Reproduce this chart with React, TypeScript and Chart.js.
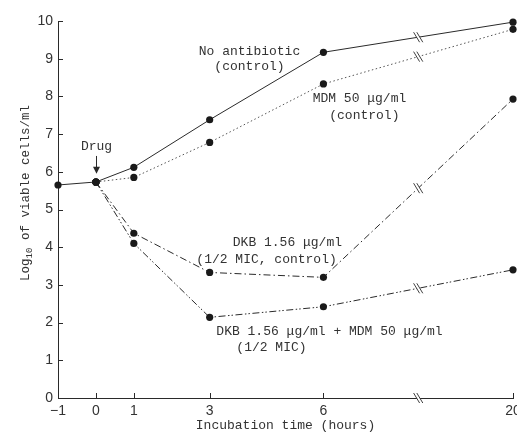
import React, { useEffect, useRef } from "react";
import { Chart, registerables } from "chart.js";

Chart.register(...registerables);

// ---- data (hours, log10 viable cells/ml) ----
const inoculumHours = [-1, 0];
const inoculumLog = [5.65, 5.73];
const sampleHours = [0, 1, 3, 6, 20];
const noAntibiotic = [5.73, 6.12, 7.38, 9.17, 9.97];
const mdm50 = [5.73, 5.85, 6.78, 8.33, 9.78];
const dkbHalfMic = [5.73, 4.37, 3.33, 3.2, 7.93];
const dkbPlusMdm = [5.73, 4.1, 2.14, 2.42, 3.4];
const xTickHours = [-1, 0, 1, 3, 6, 20];
const yTickValues = [0, 1, 2, 3, 4, 5, 6, 7, 8, 9, 10];

// axis break: 6..20 h is compressed into 5 axis units
const BREAK_FROM = 6;
const BREAK_TO = 20;
const BREAK_SPAN = 5;
const toAxis = (h: number) =>
  h <= BREAK_FROM ? h : BREAK_FROM + ((h - BREAK_FROM) * BREAK_SPAN) / (BREAK_TO - BREAK_FROM);
const breakAxisX = BREAK_FROM + BREAK_SPAN / 2;

// text annotations (axis units)
const annotationLines = [
  { text: "No antibiotic", x: 4.05, y: 9.18 },
  { text: "(control)", x: 4.05, y: 8.8 },
  { text: "MDM 50 μg/ml", x: 6.95, y: 7.93 },
  { text: "(control)", x: 7.08, y: 7.5 },
  { text: "DKB 1.56 μg/ml", x: 5.05, y: 4.11 },
  { text: "(1/2 MIC, control)", x: 4.5, y: 3.66 },
  { text: "DKB 1.56 μg/ml + MDM 50 μg/ml", x: 6.16, y: 1.75 },
  { text: "(1/2 MIC)", x: 4.63, y: 1.35 },
];
const drugLabel = { text: "Drug", x: 0, y: 6.68, arrowFrom: 6.42, arrowTo: 5.95 };

const INK = "#2a2a2a";
const MONO = "'Liberation Mono', 'DejaVu Sans Mono', monospace";
const SANS = "'Liberation Sans', Arial, sans-serif";

const seriesList = [
  { values: noAntibiotic, dash: [] as number[] },
  { values: mdm50, dash: [1.5, 2.5] },
  { values: dkbHalfMic, dash: [7, 3, 1.5, 3] },
  { values: dkbPlusMdm, dash: [7, 2.5, 1.5, 2, 1.5, 2.5] },
];

const overlayPlugin = {
  id: "overlay",
  afterDraw(chart: any) {
    const { ctx, chartArea, scales } = chart;
    const x = scales.x;
    const y = scales.y;
    ctx.save();
    ctx.strokeStyle = INK;
    ctx.lineWidth = 1;
    ctx.setLineDash([]);
    const seg = (x1: number, y1: number, x2: number, y2: number) => {
      ctx.beginPath();
      ctx.moveTo(x1, y1);
      ctx.lineTo(x2, y2);
      ctx.stroke();
    };
    // inward tick marks
    yTickValues.forEach((v) => {
      const py = Math.round(y.getPixelForValue(v)) + 0.5;
      seg(chartArea.left, py, chartArea.left + 5, py);
    });
    xTickHours.forEach((h) => {
      const px = Math.round(x.getPixelForValue(toAxis(h))) + 0.5;
      seg(px, chartArea.bottom, px, chartArea.bottom - 5);
    });
    // break marks
    const drawBreak = (bx: number, by: number) => {
      ctx.save();
      ctx.fillStyle = "#ffffff";
      ctx.beginPath();
      ctx.moveTo(bx - 1.6 - 3, by - 5);
      ctx.lineTo(bx + 1.6 - 3, by - 5);
      ctx.lineTo(bx + 1.6 + 3, by + 5);
      ctx.lineTo(bx - 1.6 + 3, by + 5);
      ctx.closePath();
      ctx.fill();
      ctx.strokeStyle = INK;
      ctx.lineWidth = 0.9;
      seg(bx - 1.6 - 3, by - 5, bx - 1.6 + 3, by + 5);
      seg(bx + 1.6 - 3, by - 5, bx + 1.6 + 3, by + 5);
      ctx.restore();
    };
    const bx = x.getPixelForValue(breakAxisX);
    drawBreak(bx, chartArea.bottom);
    seriesList.forEach((s) => {
      const v = (s.values[3] + s.values[4]) / 2;
      drawBreak(bx, y.getPixelForValue(v));
    });
    // annotations
    ctx.fillStyle = "#333";
    ctx.font = `13px ${MONO}`;
    ctx.textAlign = "center";
    ctx.textBaseline = "middle";
    annotationLines.forEach((a) => {
      ctx.fillText(a.text, x.getPixelForValue(a.x), y.getPixelForValue(a.y));
    });
    // Drug arrow
    const dx = Math.round(x.getPixelForValue(drugLabel.x)) + 0.5;
    ctx.fillText(drugLabel.text, dx, y.getPixelForValue(drugLabel.y));
    const ay1 = y.getPixelForValue(drugLabel.arrowFrom);
    const ay2 = y.getPixelForValue(drugLabel.arrowTo);
    seg(dx, ay1, dx, ay2 - 4);
    ctx.fillStyle = INK;
    ctx.beginPath();
    ctx.moveTo(dx - 3.5, ay2 - 7);
    ctx.lineTo(dx + 3.5, ay2 - 7);
    ctx.lineTo(dx, ay2);
    ctx.closePath();
    ctx.fill();
    // y axis title with subscript
    ctx.fillStyle = "#333";
    ctx.translate(26, chartArea.top + 172);
    ctx.rotate(-Math.PI / 2);
    ctx.textAlign = "left";
    ctx.textBaseline = "middle";
    const mainFont = `12.5px ${MONO}`;
    const subFont = `9px ${MONO}`;
    ctx.font = mainFont;
    const w1 = ctx.measureText("Log").width;
    ctx.font = subFont;
    const w2 = ctx.measureText("10").width;
    ctx.font = mainFont;
    const w3 = ctx.measureText(" of viable cells/ml").width;
    let cx = -(w1 + w2 + w3) / 2;
    ctx.fillText("Log", cx, 0);
    cx += w1;
    ctx.font = subFont;
    ctx.fillText("10", cx, 4);
    cx += w2;
    ctx.font = mainFont;
    ctx.fillText(" of viable cells/ml", cx, 0);
    ctx.restore();
  },
};

function toPoints(hours: number[], values: number[]) {
  return hours.map((h, i) => ({ x: toAxis(h), y: values[i] }));
}

export default function App() {
  const canvasRef = useRef<HTMLCanvasElement | null>(null);

  useEffect(() => {
    const canvas = canvasRef.current;
    if (!canvas) return;
    const common = {
      borderColor: INK,
      borderWidth: 1,
      pointRadius: 3.6,
      pointBackgroundColor: "#1a1a1a",
      pointBorderColor: "#1a1a1a",
      pointBorderWidth: 0,
      fill: false,
      tension: 0,
      clip: false as any,
    };
    const chart = new Chart(canvas, {
      type: "line",
      data: {
        datasets: [
          { ...common, label: "Inoculum", data: toPoints(inoculumHours, inoculumLog) },
          ...seriesList.map((s, i) => ({
            ...common,
            label: ["No antibiotic", "MDM 50 μg/ml", "DKB 1.56 μg/ml", "DKB + MDM"][i],
            data: toPoints(sampleHours, s.values),
            borderDash: s.dash,
            borderColor: i === 1 ? "#555" : INK,
          })),
        ],
      },
      options: {
        animation: false,
        responsive: false,
        maintainAspectRatio: false,
        layout: { padding: { top: 21, right: 3, left: 0, bottom: 0 } },
        plugins: { legend: { display: false }, tooltip: { enabled: false } },
        scales: {
          x: {
            type: "linear",
            min: toAxis(-1),
            max: toAxis(20),
            grid: { display: false, drawTicks: false },
            border: { display: true, color: INK, width: 1 },
            afterBuildTicks: (scale: any) => {
              scale.ticks = xTickHours.map((h) => ({ value: toAxis(h) }));
            },
            afterFit: (scale: any) => {
              scale.height = 44;
              scale.paddingLeft = 0;
              scale.paddingRight = 0;
            },
            ticks: {
              autoSkip: false,
              maxRotation: 0,
              padding: 5,
              color: "#333",
              font: { family: SANS, size: 14 },
              callback: (v: any) => {
                const h = xTickHours.find((t) => Math.abs(toAxis(t) - v) < 1e-6);
                if (h === undefined) return "";
                return h < 0 ? "\u2212" + Math.abs(h) : String(h);
              },
            },
            title: {
              display: true,
              text: "Incubation time (hours)",
              color: "#333",
              font: { family: MONO, size: 13 },
              padding: { top: 0, bottom: 9 },
            },
          },
          y: {
            type: "linear",
            min: 0,
            max: 10,
            grid: { display: false, drawTicks: false },
            border: { display: true, color: INK, width: 1 },
            afterBuildTicks: (scale: any) => {
              scale.ticks = yTickValues.map((v) => ({ value: v }));
            },
            afterFit: (scale: any) => {
              scale.width = 58;
              scale.paddingTop = 0;
              scale.paddingBottom = 0;
            },
            ticks: {
              padding: 5,
              color: "#333",
              font: { family: SANS, size: 14 },
            },
          },
        },
      },
      plugins: [overlayPlugin],
    });
    return () => chart.destroy();
  }, []);

  return (
    <div style={{ position: "fixed", left: 0, top: 0, width: 517, height: 442, background: "#fff" }}>
      <canvas ref={canvasRef} width={517} height={442} style={{ display: "block" }} />
    </div>
  );
}
